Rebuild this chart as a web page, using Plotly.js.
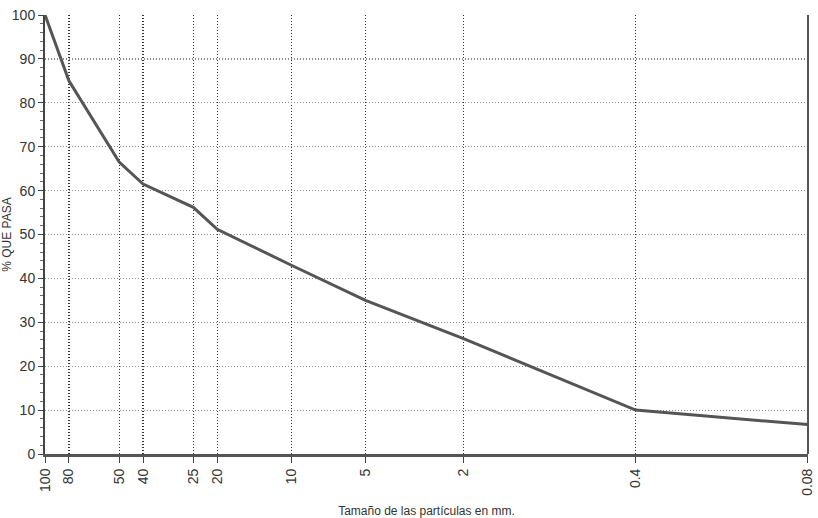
<!DOCTYPE html>
<html>
<head>
<meta charset="utf-8">
<script src="https://cdn.plot.ly/plotly-3.0.1.min.js"></script>
<style>html,body{margin:0;padding:0;background:#fff;}#chart{width:818px;height:518px;}</style>
</head>
<body>
<div id="chart"></div>
<script>
const sizes = [100, 80, 50, 40, 25, 20, 10, 5, 2, 0.4, 0.08];
const passing = [100, 85, 66.5, 61.5, 56.2, 51.2, 43, 35, 26.3, 10, 6.7];
const tickValues = [100, 80, 50, 40, 25, 20, 10, 5, 2, 0.4, 0.08];
const tickLabels = ["100", "80", "50", "40", "25", "20", "10", "5", "2", "0.4", "0.08"];

const trace = {
  x: sizes, y: passing, type: 'scatter', mode: 'lines',
  line: {color: '#555555', width: 3}, hoverinfo: 'skip', cliponaxis: false
};

const layout = {
  width: 818, height: 518,
  margin: {l: 45, r: 10, t: 15, b: 64},
  paper_bgcolor: '#ffffff', plot_bgcolor: '#ffffff',
  showlegend: false,
  font: {family: 'Liberation Sans, Arial, sans-serif', color: '#333333', size: 14},
  xaxis: {
    type: 'log',
    range: [Math.log10(100.05), Math.log10(0.0799)],
    tickmode: 'array', tickvals: tickValues, ticktext: tickLabels,
    tickangle: -90, ticklabeloverflow: 'allow',
    ticks: 'outside', ticklen: 6, tickcolor: '#444',
    showgrid: true, gridcolor: '#333333', griddash: '1px,2px', gridwidth: 1.2,
    showline: true, linecolor: '#555555', linewidth: 3,
    zeroline: false,
    title: {text: 'Tamaño de las partículas en mm.', font: {size: 12, color: '#333'}, standoff: 14}
  },
  yaxis: {
    range: [0, 100], dtick: 10,
    ticks: 'outside', ticklen: 5, tickcolor: '#444',
    minor: {dtick: 2, ticks: 'outside', ticklen: 3, tickcolor: '#666', showgrid: false},
    showgrid: true, gridcolor: '#8a8a8a', griddash: '1px,2px', gridwidth: 1.2,
    showline: true, linecolor: '#444444', linewidth: 2,
    zeroline: false,
    title: {text: '% QUE PASA', font: {size: 12, color: '#333'}, standoff: 2}
  },
  shapes: [{type: 'line', xref: 'paper', yref: 'paper', x0: 1, x1: 1, y0: 0, y1: 1,
            line: {color: '#555', width: 2}}]
};

Plotly.newPlot('chart', [trace], layout, {displayModeBar: false, staticPlot: true});
</script>
</body>
</html>
